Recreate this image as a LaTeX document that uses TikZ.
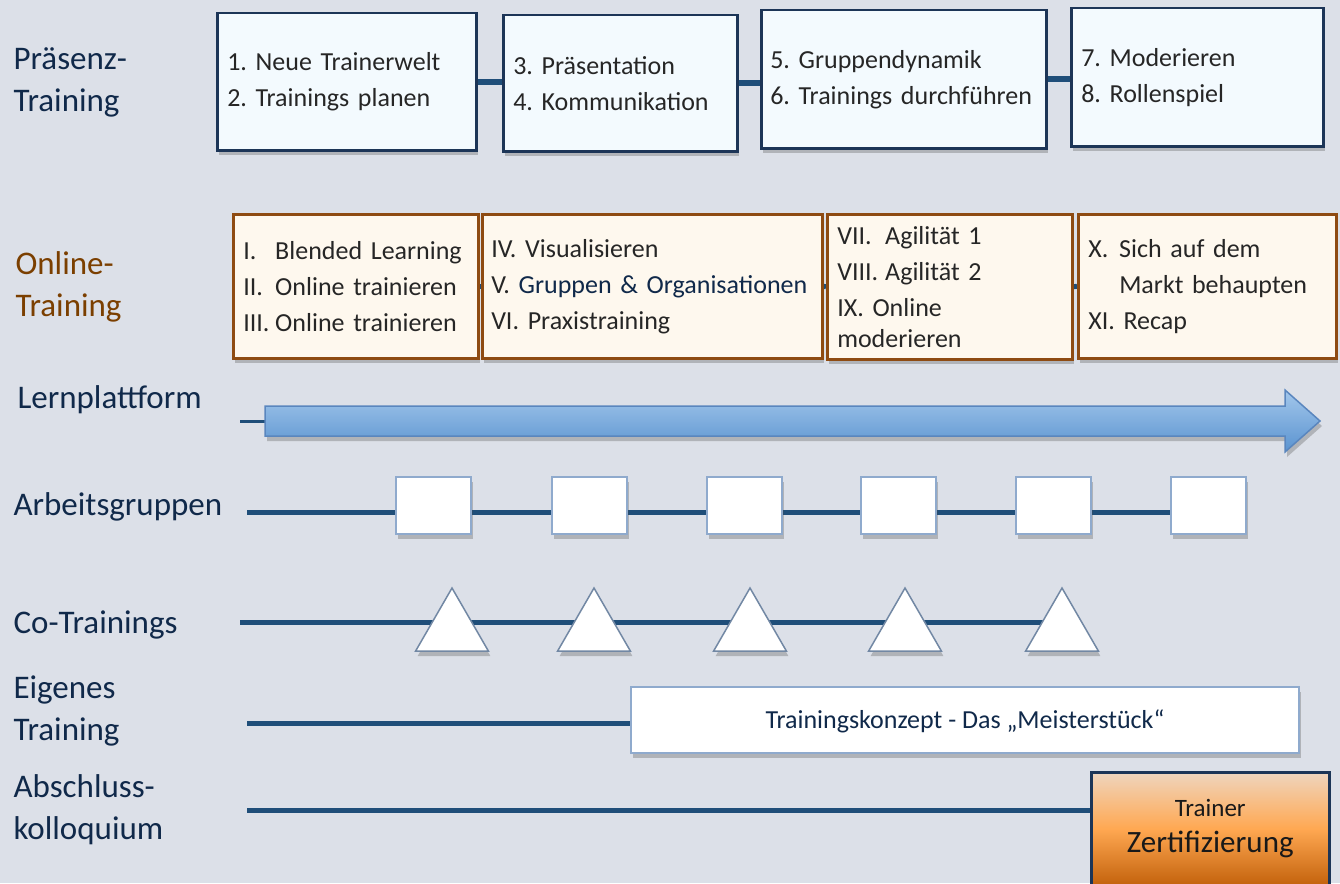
\documentclass[tikz,border=0pt]{standalone}
\usepackage{fontspec}
\setmainfont{Carlito}
\usetikzlibrary{shapes.geometric,shadows,backgrounds}
\definecolor{bgcol}{HTML}{DCE0E8}
\definecolor{navy}{HTML}{1F4E79}
\definecolor{labnavy}{HTML}{10294A}
\definecolor{labbrown}{HTML}{7B3F00}
\definecolor{boxline}{HTML}{1C3557}
\definecolor{boxfill}{HTML}{F3FAFE}
\definecolor{onfill}{HTML}{FEF8EE}
\definecolor{online}{HTML}{8E4B12}
\definecolor{lightedge}{HTML}{8FAACD}
\definecolor{txtgray}{HTML}{262626}
\definecolor{arrtop}{HTML}{A3C7EB}
\definecolor{arrbot}{HTML}{5A93D0}
\definecolor{arredge}{HTML}{5A86BE}
\definecolor{certtop}{HTML}{EFD5BE}
\definecolor{certmid}{HTML}{FFA852}
\definecolor{certbot}{HTML}{C3620C}
\hyphenpenalty=10000

\begin{document}
\frenchspacing
\begin{tikzpicture}[x=1pt,y=-1pt,
  lab/.style={anchor=west,align=left,text=labnavy,font=\fontsize{33}{42}\selectfont},
  tl/.style={draw=navy,line width=5pt},
  shd/.style={drop shadow={shadow xshift=2pt,shadow yshift=-5pt,opacity=0.3,fill=black!70}},
  pbox/.style={draw=boxline,line width=2.5pt,fill=boxfill,shd,anchor=north west,align=left,
    inner xsep=10pt,text=txtgray,font=\fontsize{26}{36}\selectfont},
  obox/.style={pbox,draw=online,fill=onfill},
  sq/.style={draw=lightedge,line width=2pt,fill=white,shd,minimum width=75pt,minimum height=57pt,inner sep=0pt},
  tri/.style={regular polygon,regular polygon sides=3,draw=lightedge!80!black,line width=1.5pt,fill=white,shd,
    minimum size=84pt,inner sep=0pt},
  tkbox/.style={draw=lightedge,line width=2pt,fill=white,shd,anchor=north west,text=labnavy,
    font=\fontsize{26}{32}\selectfont},
  certbox/.style={draw=boxline,line width=2.5pt,top color=certtop,bottom color=certbot,middle color=certmid,
    anchor=north west,align=center,text=black!90,font=\fontsize{31}{36}\selectfont}
]
\useasboundingbox (0,0) rectangle (1340,883);
\begin{scope}[on background layer]
\fill[bgcol] (0,0) rectangle (1340,883);
\end{scope}

% Praesenz
\node[lab] (lpr) at (10,82) {Präsenz-\\Training};
\node[pbox,minimum width=259pt,minimum height=137pt,text width=239pt] (p1) at (216,12) {1. Neue Trainerwelt\\2. Trainings planen};
\node[pbox,minimum width=234pt,minimum height=136pt,text width=214pt] (p2) at (502,14) {3. Präsentation\\4. Kommunikation};
\node[pbox,minimum width=285pt,minimum height=138pt,text width=267pt,inner xsep=9pt] (p3) at (760,9) {5. Gruppendynamik\\6. Trainings durchführen};
\node[pbox,minimum width=252pt,minimum height=138pt,text width=232pt] (p4) at (1070,7) {7. Moderieren\\8. Rollenspiel};

% Online
\node[lab,text=labbrown] (lon) at (12,287) {Online-\\Training};
\node[obox,minimum width=245pt,minimum height=144pt,text width=225pt] (o1) at (232,213)
  {\makebox[32pt][l]{I.}Blended Learning\\\makebox[32pt][l]{II.}Online trainieren\\\makebox[32pt][l]{III.}Online trainieren};
\node[obox,minimum width=340pt,minimum height=144pt,text width=322pt,inner xsep=9pt] (o2) at (481,213)
  {IV. Visualisieren\\V. {\color{labnavy}Gruppen \& Organisationen}\\VI. Praxistraining};
\node[obox,minimum width=245pt,minimum height=145pt,text width=225pt,inner ysep=3pt] (o3) at (826,213)
  {\makebox[48pt][l]{VII.}Agilität 1\\\makebox[48pt][l]{VIII.}Agilität 2\\IX. Online\\[-5pt]moderieren};
\node[obox,minimum width=258pt,minimum height=144pt,text width=238pt] (o4) at (1077,213)
  {\makebox[31pt][l]{X.}Sich auf dem\\\hspace*{31pt}Markt behaupten\\XI. Recap};

% Lernplattform
\node[lab] (llp) at (14,400) {Lernplattform};
\coordinate (lp0) at (240,421);
\coordinate (lp1) at (265,421);
\shade[shd,top color=arrtop,bottom color=arrbot,draw=arredge,line width=1.5pt]
  (lp1) ++(0,-15) -- (1285,406) -- (1285,390) -- (1320,421) -- (1285,452) -- (1285,436) -- (265,436) -- cycle;

% Arbeitsgruppen
\node[lab] (lag) at (10,507) {Arbeitsgruppen};
\coordinate (ag0) at (247,512);
\foreach \i/\x in {1/433,2/589,3/744,4/898,5/1053,6/1208}
  \node[sq] (a\i) at (\x,505) {};

% Co-Trainings
\node[lab] (lct) at (10,625) {Co-Trainings};
\coordinate (ct0) at (240,622);
\foreach \i/\x in {1/452,2/594,3/750,4/905,5/1062}
  \node[tri] (t\i) at (\x,630) {};

% Eigenes Training
\node[lab] (let) at (10,711) {Eigenes\\Training};
\coordinate (et0) at (247,723);
\node[tkbox,minimum width=668pt,minimum height=66pt,text depth=2pt] (tk) at (630,686) {Trainingskonzept - Das „Meisterstück“};

% Abschluss
\node[lab] (lak) at (10,810) {Abschluss-\\kolloquium};
\coordinate (ak0) at (247,810);
\node[certbox,minimum width=238pt,minimum height=113pt] (cz) at (1090,771)
  {{\fontsize{25}{30}\selectfont Trainer}\\Zertifizierung};

\begin{scope}[on background layer]
\draw[tl,line width=6pt] (p1.east) -- (p1.east -| p2.west);
\draw[tl,line width=6pt] (p2.east) -- (p2.east -| p3.west);
\draw[tl,line width=6pt] (p3.east) -- (p3.east -| p4.west);
\draw[tl] (o1.east) -- (o2.west);
\draw[tl] (o2.east) -- (o3.west);
\draw[tl] (o3.east) -- (o4.west);
\draw[navy,line width=3pt] (lp0) -- (lp1);
\draw[tl] (ag0) -- (a1.west |- ag0);
\foreach \i/\j in {1/2,2/3,3/4,4/5,5/6}
  \draw[tl] (a\i.east |- ag0) -- (a\j.west |- ag0);
\draw[tl] (ct0) -- (t1.center |- ct0);
\foreach \i/\j in {1/2,2/3,3/4,4/5}
  \draw[tl] (t\i.center |- ct0) -- (t\j.center |- ct0);
\draw[tl] (et0) -- (tk.west |- et0);
\draw[tl] (ak0) -- (cz.west |- ak0);
\end{scope}
\end{tikzpicture}
\end{document}
